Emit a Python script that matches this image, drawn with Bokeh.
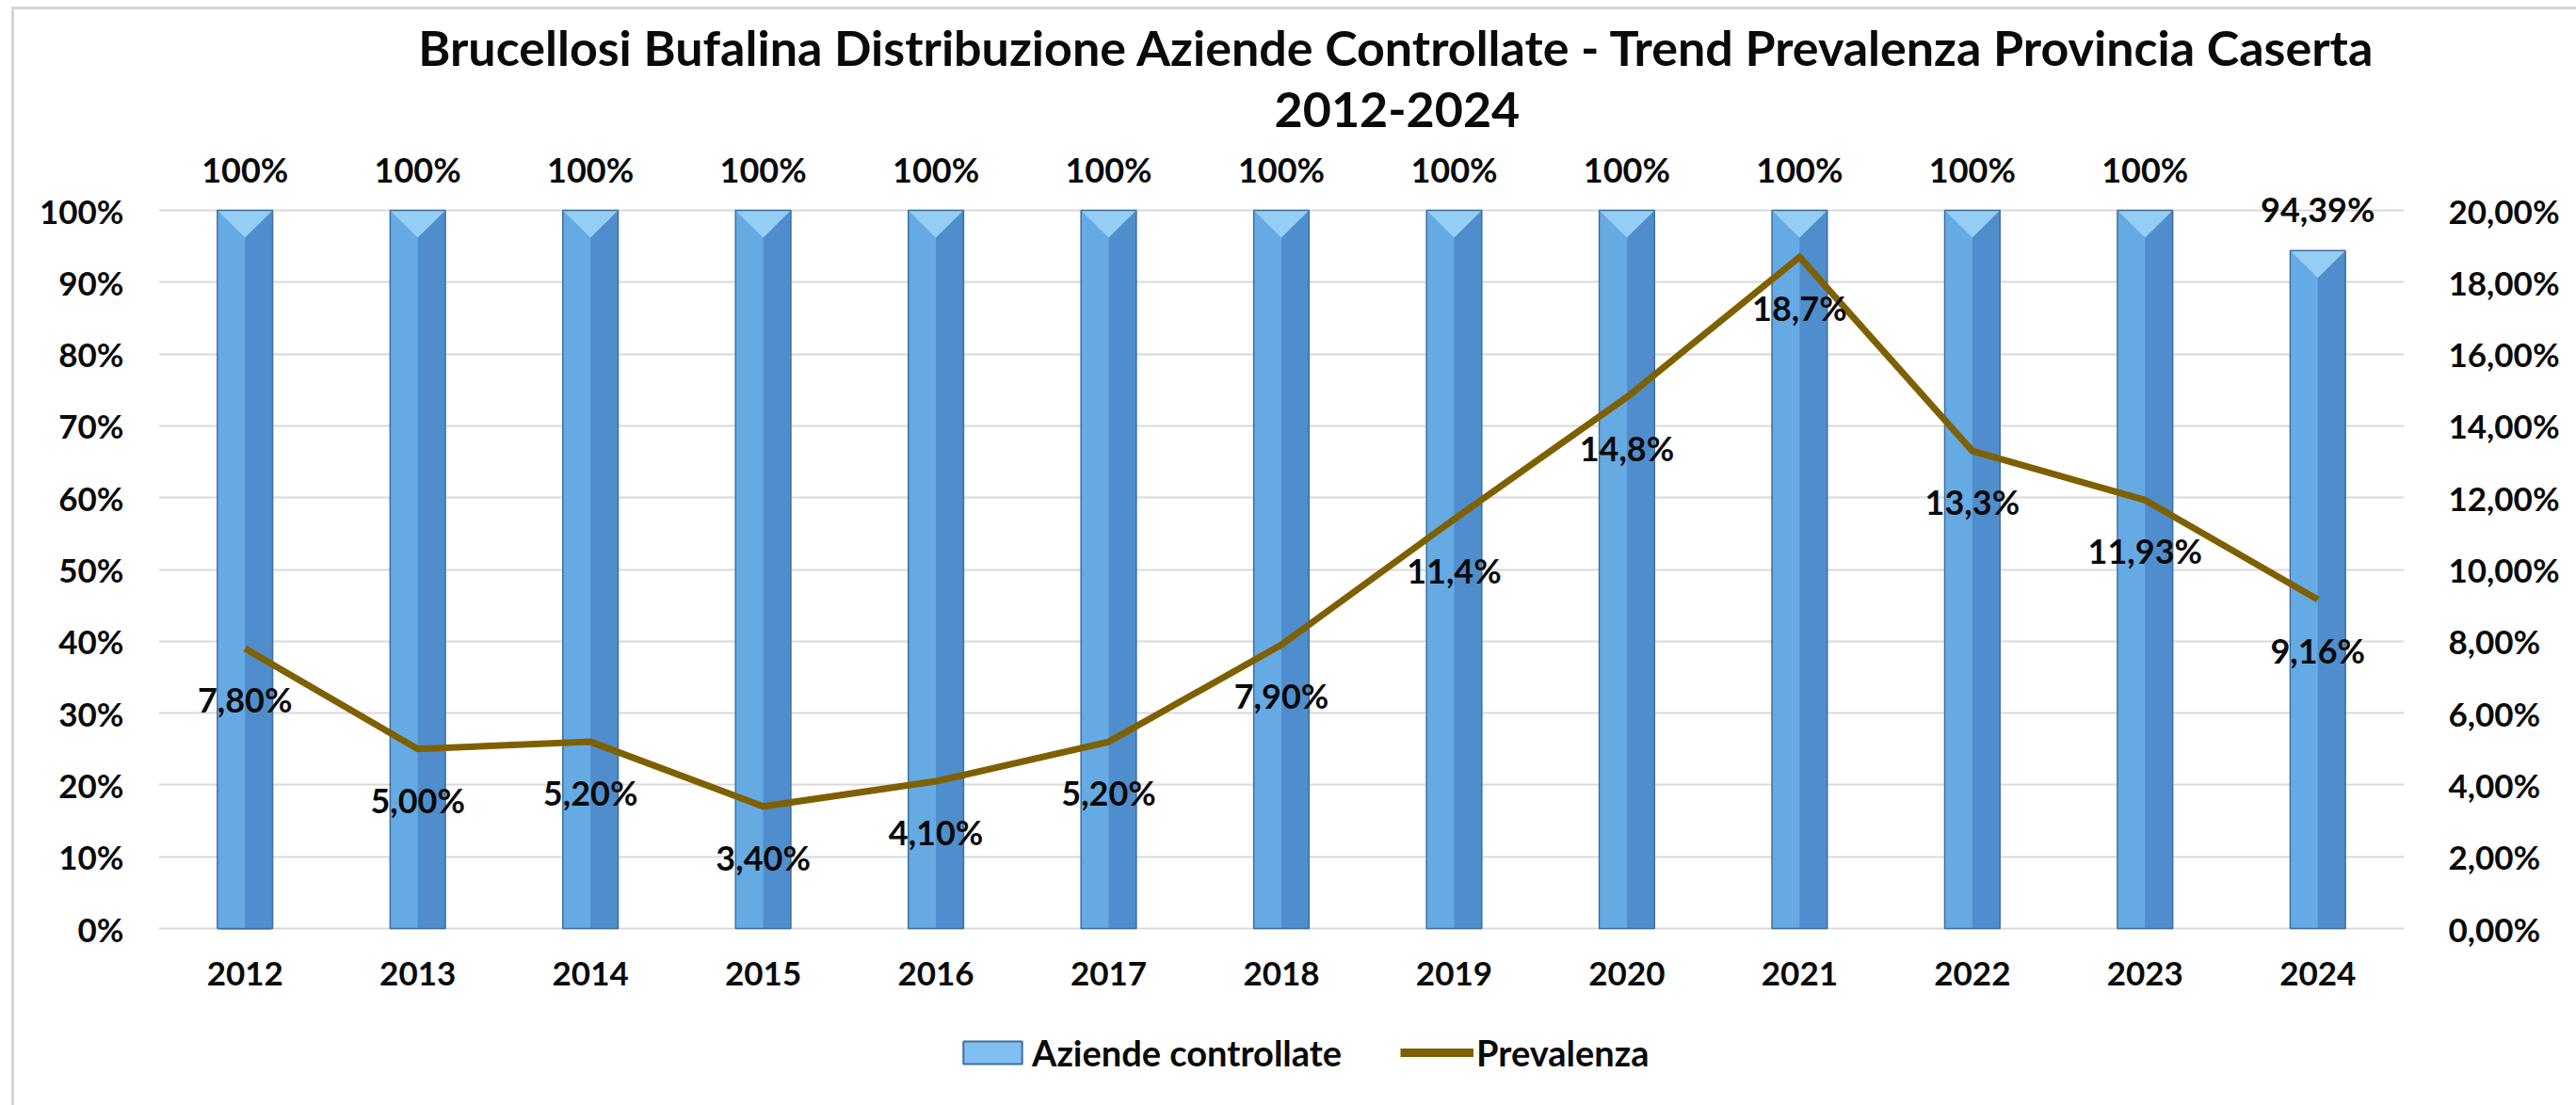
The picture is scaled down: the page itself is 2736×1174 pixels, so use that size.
from bokeh.plotting import figure
from bokeh.models import (Range1d, LinearAxis, FixedTicker, ColumnDataSource,
                          LabelSet, Label, Legend, LegendItem)
from bokeh.embed import file_html
from bokeh.resources import INLINE
from bokeh.core.properties import value

# ---------------- data ----------------
years = ["2012", "2013", "2014", "2015", "2016", "2017", "2018",
         "2019", "2020", "2021", "2022", "2023", "2024"]
aziende = [100, 100, 100, 100, 100, 100, 100, 100, 100, 100, 100, 100, 94.39]
aziende_labels = ["100%"] * 12 + ["94,39%"]
prevalenza = [7.80, 5.00, 5.20, 3.40, 4.10, 5.20, 7.90, 11.4, 14.8, 18.7, 13.3, 11.93, 9.16]
prevalenza_labels = ["7,80%", "5,00%", "5,20%", "3,40%", "4,10%", "5,20%", "7,90%",
                     "11,4%", "14,8%", "18,7%", "13,3%", "11,93%", "9,16%"]
left_ticks = [0, 10, 20, 30, 40, 50, 60, 70, 80, 90, 100]
left_tick_labels = ["0%", "10%", "20%", "30%", "40%", "50%", "60%", "70%", "80%", "90%", "100%"]
right_ticks = [0, 2, 4, 6, 8, 10, 12, 14, 16, 18, 20]
right_tick_labels = ["0,00%", "2,00%", "4,00%", "6,00%", "8,00%", "10,00%",
                     "12,00%", "14,00%", "16,00%", "18,00%", "20,00%"]
title_lines = ["Brucellosi Bufalina Distribuzione Aziende Controllate - Trend Prevalenza Provincia Caserta",
               "2012-2024"]
series_names = ["Aziende controllate", "Prevalenza"]

# ---------------- styling / layout ----------------
FONT = "Lato"
TXT = "#0a0a0a"
BAR_RIGHT = "#4f8dcc"
BAR_LEFT = "#66aae4"
BAR_TOP = "#95cef5"
BAR_EDGE = "#3f6f9d"
LINE_COL = "#7f6000"
GRID = "#d9d9d9"
BAR_W = 0.32
TRI_DEPTH = 3.8

FRAME_W, FRAME_H = 2385, 1164
PX_TOP, PX_ZERO = 213, 976           # pixel rows (inside frame) of 100% and 0%
k = (PX_ZERO - PX_TOP) / 100.0       # pixels per percent
y_end = PX_ZERO / k
y_start = y_end - FRAME_H / k
r_scale = 20.0 / 100.0

n = len(years)
xs = [i + 0.5 for i in range(n)]

src = ColumnDataSource(dict(
    x=xs,
    year=years,
    az=aziende,
    az_lab=aziende_labels,
    left=[x - BAR_W / 2 for x in xs],
    mid=xs,
    zero=[0] * n,
    prev=prevalenza,
    prev_lab=prevalenza_labels,
))
tri = ColumnDataSource(dict(
    xs=[[x - BAR_W / 2, x + BAR_W / 2, x] for x in xs],
    ys=[[a, a, a - TRI_DEPTH] for a in aziende],
))
# proxies used only for the legend swatches (zero-height bar / single point line)
proxy = ColumnDataSource(dict(x=[xs[0]], t=[0], y=[prevalenza[0]]))

p = figure(frame_width=FRAME_W, frame_height=FRAME_H, output_backend="svg", toolbar_location=None,
           x_range=Range1d(0, n), y_range=Range1d(y_start, y_end),
           min_border_left=153, min_border_right=183, min_border_top=0, min_border_bottom=0,
           background_fill_color="white", border_fill_color="white")
p.styles = {"border-top": "3px solid #d6d6d6", "border-left": "3px solid #d6d6d6",
            "margin-top": "7px", "margin-left": "12px"}
p.extra_y_ranges = {"prev": Range1d(y_start * r_scale, y_end * r_scale)}
p.outline_line_color = None

leg_bar = p.vbar(x="x", top="t", width=0.3, source=proxy, fill_color="#80beef",
                 line_color=BAR_EDGE, line_width=2)

# bars (3D-like look)
base = p.vbar(x="x", top="az", width=BAR_W, source=src, fill_color=BAR_RIGHT, line_color=None)
p.quad(left="left", right="mid", top="az", bottom="zero", source=src, fill_color=BAR_LEFT, line_color=None)
p.patches(xs="xs", ys="ys", source=tri, fill_color=BAR_TOP, line_color=None)
p.vbar(x="x", top="az", width=BAR_W, source=src, fill_color=None, line_color=BAR_EDGE, line_width=1.5)

# line
ln = p.line(x="x", y="prev", source=src, y_range_name="prev", line_color=LINE_COL,
            line_width=7, line_join="miter")
leg_line = p.line(x="x", y="y", source=proxy, y_range_name="prev", line_color=LINE_COL, line_width=9)

# axes
for ax in (p.xaxis[0], p.yaxis[0]):
    ax.axis_line_color = None
    ax.major_tick_line_color = None
    ax.minor_tick_line_color = None
    ax.major_tick_out = 0
    ax.major_tick_in = 0
    ax.major_label_text_font = FONT
    ax.major_label_text_font_style = "bold"
    ax.major_label_text_font_size = "35px"
    ax.major_label_text_color = TXT

p.yaxis[0].ticker = FixedTicker(ticks=left_ticks)
p.yaxis[0].major_label_overrides = dict(zip(left_ticks, left_tick_labels))
p.yaxis[0].major_label_standoff = 37

p.xaxis[0].ticker = FixedTicker(ticks=xs)
p.xaxis[0].major_label_overrides = dict(zip(xs, years))
p.xaxis[0].major_label_standoff = 35
p.xaxis[0].fixed_location = 0

rax = LinearAxis(y_range_name="prev", ticker=FixedTicker(ticks=right_ticks),
                 major_label_overrides=dict(zip(right_ticks, right_tick_labels)),
                 axis_line_color=None, major_tick_line_color=None, minor_tick_line_color=None,
                 major_tick_out=0, major_tick_in=0, major_label_standoff=47,
                 major_label_text_font=FONT, major_label_text_font_style="bold",
                 major_label_text_font_size="35px", major_label_text_color=TXT)
p.add_layout(rax, "right")

p.xgrid.visible = False
p.ygrid.ticker = FixedTicker(ticks=left_ticks)
p.ygrid.grid_line_color = GRID
p.ygrid.grid_line_width = 2

# data labels
p.add_layout(LabelSet(x="x", y="az", text="az_lab", source=src, y_offset=44,
                      text_align="center", text_baseline="middle",
                      text_font=value(FONT), text_font_style="bold",
                      text_font_size="36px", text_color=TXT))
p.add_layout(LabelSet(x="x", y="prev", text="prev_lab", source=src, y_range_name="prev",
                      y_offset=-54, text_align="center", text_baseline="middle",
                      text_font=value(FONT), text_font_style="bold",
                      text_font_size="36px", text_color=TXT))

# title (two lines)
title_y_px = [39, 106]
for txt, ty in zip(title_lines, title_y_px):
    p.add_layout(Label(x=7.17, y=y_end - ty / k, text=txt, text_align="center", text_baseline="middle",
                       text_font=FONT, text_font_style="bold",
                       text_font_size="52px", text_color=TXT))

# legend
legend = Legend(items=[LegendItem(label=series_names[0], renderers=[leg_bar]),
                       LegendItem(label=series_names[1], renderers=[leg_line])],
                location=(847, 33), orientation="horizontal",
                glyph_width=78, glyph_height=30, label_standoff=3, spacing=62,
                padding=5, margin=0, border_line_color=None, background_fill_alpha=0,
                label_text_font=FONT, label_text_font_style="bold",
                label_text_font_size="38px", label_text_color=TXT)
p.add_layout(legend, "center")

open("out.html", "w").write(file_html(p, INLINE))
